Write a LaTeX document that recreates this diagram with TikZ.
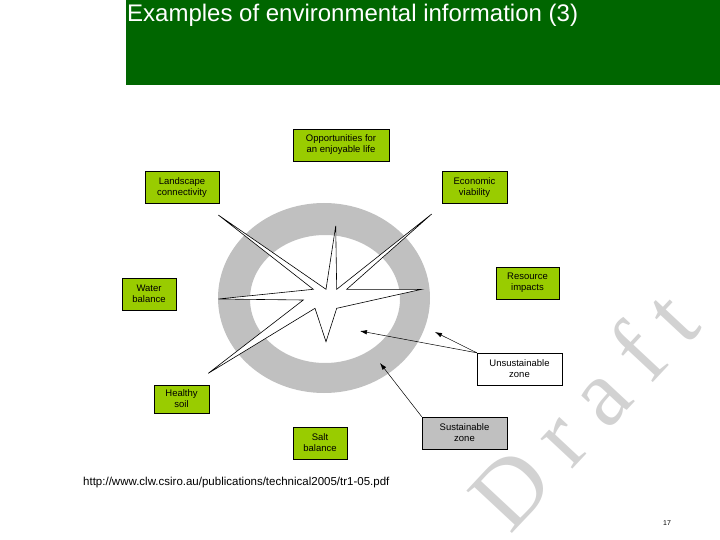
\documentclass[tikz,border=0pt]{standalone}
\usepackage{fontspec}
\setmainfont{Liberation Sans}
\newfontfamily\draftfont{Liberation Serif}
\usetikzlibrary{arrows.meta,positioning}
\definecolor{headgreen}{HTML}{006600}
\definecolor{factorgreen}{HTML}{99CC00}
\definecolor{zonegray}{HTML}{C0C0C0}
\definecolor{draftgray}{HTML}{D2D2D2}

\begin{document}
\begin{tikzpicture}[
    x=1pt, y=-1pt,
    every node/.style={font=\fontsize{9.5}{11}\selectfont},
    factor/.style={rectangle, draw, fill=factorgreen, align=center, inner sep=1pt, minimum height=32pt},
    zone/.style={rectangle, draw, align=center, inner sep=1pt, minimum width=85pt, minimum height=32pt},
    line/.style={draw, line width=0.5pt, -{Latex[length=7pt,width=4.5pt]}}
]
\useasboundingbox (0,0) rectangle (720,540);

% Watermark
\node[font=\draftfont\fontsize{95}{95}\selectfont, text=draftgray, rotate=47, anchor=base west, inner sep=0] (draft) at (510,536)
    {D\hspace{0.22em}r\hspace{0.22em}a\hspace{0.22em}f\hspace{0.22em}t};

% Header
\fill[headgreen] (126,0) rectangle (720,85);
\node[font=\fontsize{24}{26}\selectfont, text=white, anchor=base west, inner sep=0] (title) at (127,22) {Examples of environmental information (3)};

% Ring and star
\fill[zonegray, even odd rule] (324,298) ellipse [x radius=106, y radius=95]
    (325,299) ellipse [x radius=75, y radius=64];
\draw[fill=white, line width=0.6pt] (335.7,226) -- (336.7,289.3) -- (431.7,214) -- (346.7,289.3)
    -- (421.7,289.3) -- (336.7,308.3) -- (326,341.7) -- (315,308.3) -- (208.3,373.3)
    -- (303.3,300) -- (218.3,299) -- (313.3,289.3) -- (218.3,215) -- (326,289.3) -- cycle;

% Factors
\node[factor, minimum width=96pt] (enjoy) at (341,145) {Opportunities for\\an enjoyable life};
\node[factor, minimum width=74pt] (landscape) at (182,187.5) {Landscape\\connectivity};
\node[factor, minimum width=65pt] (economic) at (474.5,187.5) {Economic\\viability};
\node[factor, minimum width=63pt] (resource) at (527.5,283) {Resource\\impacts};
\node[factor, minimum width=54pt] (water) at (149,294) {Water\\balance};
\node[factor, minimum width=55pt, minimum height=28pt] (soil) at (181.5,399) {Healthy\\soil};
\node[factor, minimum width=54pt] (salt) at (320,443) {Salt\\balance};

% Zones
\node[zone, fill=zonegray] (sustain) at (464.5,433) {Sustainable\\zone};
\node[zone, fill=white] (unsustain) at (519.5,369) {Unsustainable\\zone};

\coordinate (inner) at (360,331);
\coordinate (band) at (435,332);
\coordinate (ringlow) at (380,363);

% Connections
\path [line] (unsustain.north west) -- (inner);
\path [line] (unsustain.north west) -- (band);
\path [line] (sustain.north west) -- (ringlow);

% Footer
\node[font=\fontsize{11.5}{13}\selectfont, anchor=base west, inner sep=0] (source) at (83,485) {http://www.clw.csiro.au/publications/technical2005/tr1-05.pdf};
\node[font=\fontsize{7}{8}\selectfont, anchor=base, inner sep=0] (pagenum) at (667,525) {17};

\end{tikzpicture}
\end{document}
